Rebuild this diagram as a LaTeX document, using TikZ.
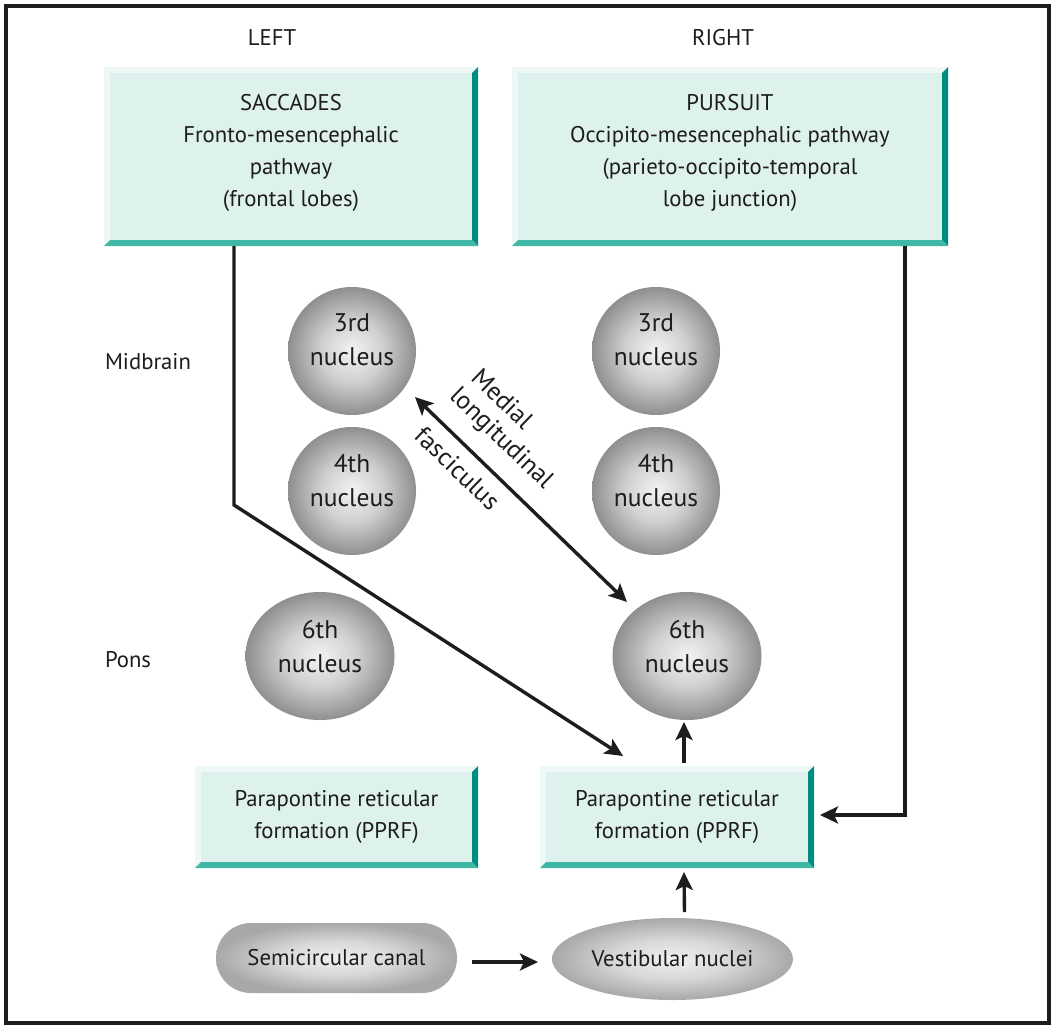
\documentclass[tikz,border=0pt]{standalone}
\usepackage{fontspec}
\setmainfont{PT Sans}
\usetikzlibrary{arrows.meta,calc,shapes.geometric,shapes.misc}
\definecolor{face}{HTML}{DDF1ED}
\definecolor{bevL}{HTML}{EEF8F6}
\definecolor{bevR}{HTML}{008C7E}
\definecolor{bevB}{HTML}{3FB8A6}
\definecolor{ink}{HTML}{1E1C1D}
\definecolor{ballin}{HTML}{F3F3F3}
\definecolor{ballmid}{HTML}{D0D0D0}
\definecolor{ballout}{HTML}{8F8F8F}
\definecolor{pillin}{HTML}{F0F0F0}
\definecolor{pillmid}{HTML}{D8D8D8}
\definecolor{pillout}{HTML}{A8A8A8}
\pgfdeclareradialshading{nucshade}{\pgfpoint{0bp}{0bp}}{color(0bp)=(ballin); color(12bp)=(ballmid); color(25bp)=(ballout); color(50bp)=(ballout)}
\pgfdeclareradialshading{pillshade}{\pgfpoint{0bp}{0bp}}{color(0bp)=(pillin); color(12bp)=(pillmid); color(25bp)=(pillout); color(50bp)=(pillout)}
\newcommand\bevelize[1]{%
  \fill[bevL] (#1.north west) -- (#1.north east) -- ($(#1.north east)+(-6,6)$) -- ($(#1.north west)+(6,6)$) -- cycle;
  \fill[bevL] (#1.north west) -- ($(#1.north west)+(6,6)$) -- ($(#1.south west)+(6,-6)$) -- (#1.south west) -- cycle;
  \fill[bevR] (#1.north east) -- (#1.south east) -- ($(#1.south east)+(-6,-6)$) -- ($(#1.north east)+(-6,6)$) -- cycle;
  \fill[bevB] (#1.south west) -- (#1.south east) -- ($(#1.south east)+(-6,-6)$) -- ($(#1.south west)+(6,-6)$) -- cycle;}
\begin{document}
\begin{tikzpicture}[x=1pt,y=-1pt,
  font=\fontsize{22.7}{32}\selectfont, text=ink,
  every node/.style={inner sep=0pt, outer sep=0pt},
  box/.style={rectangle, fill=face, align=center},
  big/.style={font=\fontsize{25.5}{34}\selectfont},
  ball/.style={circle, shading=nucshade, align=center, minimum size=128pt, big, text depth=22pt},
  egg/.style={ellipse, shading=nucshade, align=center, minimum width=149pt, minimum height=128pt, big, text depth=20pt},
  pill/.style={shading=pillshade},
  arr/.style={draw=ink, line width=3.4pt, -{Stealth[length=18pt,width=17pt,inset=4pt]}},
  arrs/.style={draw=ink, line width=3.4pt, {Stealth[length=18pt,width=17pt,inset=4pt]}-{Stealth[length=18pt,width=17pt,inset=4pt]}},
  mlf/.style={rotate=-44, anchor=west, big}]
\fill[white] (0,0) rectangle (1055,1028);
\useasboundingbox (0,0) rectangle (1055,1028);
\draw[ink, line width=3.2pt] (6,6) rectangle (1049,1023);

% column headings and levels
\node (lefthd) at (272,38) {LEFT};
\node (righthd) at (723,38) {RIGHT};
\node[anchor=west] (midbrain) at (105,362) {Midbrain};
\node[anchor=west] (pons) at (105,660) {Pons};

% top boxes
\node[box, minimum width=374pt, minimum height=179pt, text depth=12pt] (saccL) at (291,156.5)
  {SACCADES\\Fronto-mesencephalic\\pathway\\(frontal lobes)};
\bevelize{saccL}
\node[box, minimum width=436pt, minimum height=179pt, text depth=12pt] (pursR) at (730,156.5)
  {PURSUIT\\Occipito-mesencephalic pathway\\(parieto-occipito-temporal\\lobe junction)};
\bevelize{pursR}

% nuclei
\node[ball] (n3L) at (352,351) {3rd\\nucleus};
\node[ball] (n4L) at (352,491) {4th\\nucleus};
\node[ball] (n3R) at (656,351) {3rd\\nucleus};
\node[ball] (n4R) at (656,491) {4th\\nucleus};
\node[egg] (n6L) at (320,656) {6th\\nucleus};
\node[egg] (n6R) at (687,656) {6th\\nucleus};

% PPRF boxes
\node[box, minimum width=283pt, minimum height=102pt] (pprfL) at (336.5,817)
  {Parapontine reticular\\formation (PPRF)};
\bevelize{pprfL}
\node[box, minimum width=274pt, minimum height=102pt] (pprfR) at (677,817)
  {Parapontine reticular\\formation (PPRF)};
\bevelize{pprfR}

% vestibular
\node[pill, rounded rectangle, minimum width=241pt, minimum height=70pt] (canal) at (336.5,958) {Semicircular canal};
\node[pill, ellipse, minimum width=241pt, minimum height=82pt] (vest) at (672.5,959) {Vestibular nuclei};

% connectors
\draw[arr] ($(saccL.south)+(-57,0)$) -- ++(0,259) -- ($(pprfR.north)+(-54,-10)$);
\draw[arr] ($(pursR.south)+(175,0)$) -- ++(0,569) -- ($(pprfR.east)+(6,-2)$);
\draw[arr] ($(pprfR.north)+(7,-3)$) -- ($(n6R.south)+(-3,2)$);
\draw[arr] ($(vest.north)+(12,-6)$) -- ($(pprfR.south)+(7,4)$);
\draw[arr] ($(canal.east)+(15,4)$) -- ($(vest.west)+(-14,3)$);
\draw[arrs] ($(n3L.center)+(63,46)$) -- ($(n6R.center)+(-60,-54)$);

% MLF label
\node[mlf] (mlf1) at (476,373) {Medial};
\node[mlf] (mlf2) at (453,393) {longitudinal};
\node[mlf] (mlf3) at (419,431) {fasciculus};
\end{tikzpicture}
\end{document}
